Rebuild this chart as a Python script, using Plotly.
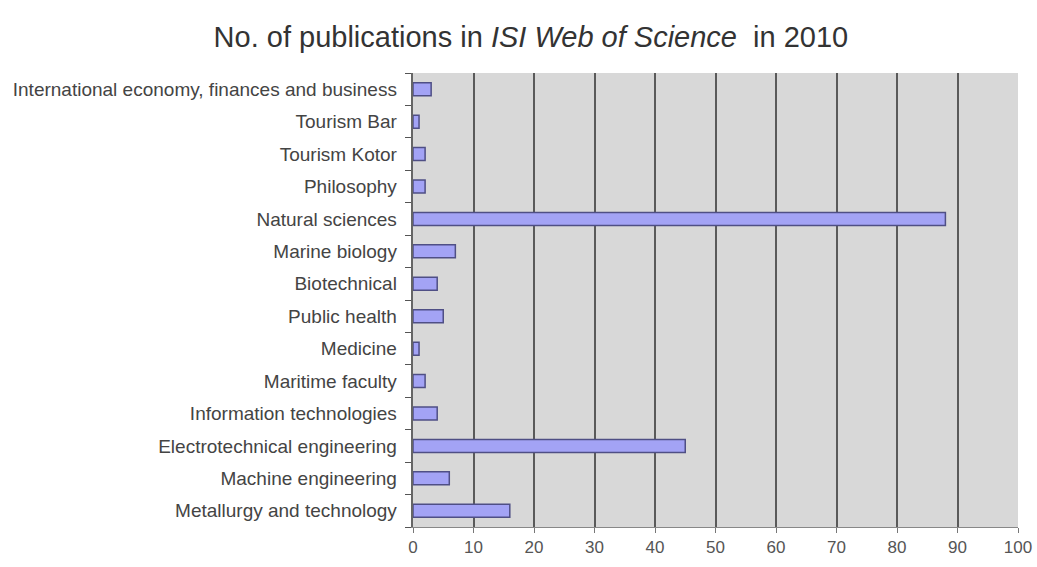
import plotly.graph_objects as go

categories = [
    "Metallurgy and technology",
    "Machine engineering",
    "Electrotechnical engineering",
    "Information technologies",
    "Maritime faculty",
    "Medicine",
    "Public health",
    "Biotechnical",
    "Marine biology",
    "Natural sciences",
    "Philosophy",
    "Tourism Kotor",
    "Tourism Bar",
    "International economy, finances and business",
]
publications = [16, 6, 45, 4, 2, 1, 5, 4, 7, 88, 2, 2, 1, 3]
x_ticks = [0, 10, 20, 30, 40, 50, 60, 70, 80, 90, 100]

fig = go.Figure(
    go.Bar(
        x=publications,
        y=categories,
        orientation="h",
        width=0.4,
        marker=dict(color="#A3A3F5", line=dict(color="#4F4F85", width=1.5)),
    )
)

fig.update_layout(
    width=1037,
    height=567,
    margin=dict(l=413, r=19, t=73, b=40),
    paper_bgcolor="white",
    plot_bgcolor="#D8D8D8",
    font=dict(family="Liberation Sans, Arial, sans-serif", color="#444444", size=18),
    title=dict(
        text="No. of publications in <i>ISI Web of Science</i>  in 2010",
        x=0.512,
        xanchor="center",
        y=0.935,
        yanchor="middle",
        font=dict(size=29, color="#333333"),
    ),
    showlegend=False,
)

fig.update_xaxes(
    range=[0, 100],
    tickvals=x_ticks,
    ticktext=[str(v) for v in x_ticks],
    showgrid=True,
    gridcolor="#5A5A5A",
    gridwidth=1.5,
    ticks="outside",
    ticklen=5,
    tickcolor="#777777",
    showline=True,
    linecolor="#888888",
    zeroline=False,
    automargin=False,
    tickfont=dict(size=17, color="#555555"),
)
fig.update_yaxes(
    type="category",
    categoryorder="array",
    categoryarray=categories,
    showgrid=False,
    ticks="outside",
    tickson="boundaries",
    ticklen=6,
    tickcolor="#555555",
    showline=True,
    linecolor="#666666",
    linewidth=1.5,
    automargin=False,
    tickfont=dict(size=19, color="#444444"),
    ticksuffix="  ",
)

fig.write_html("out.html")
